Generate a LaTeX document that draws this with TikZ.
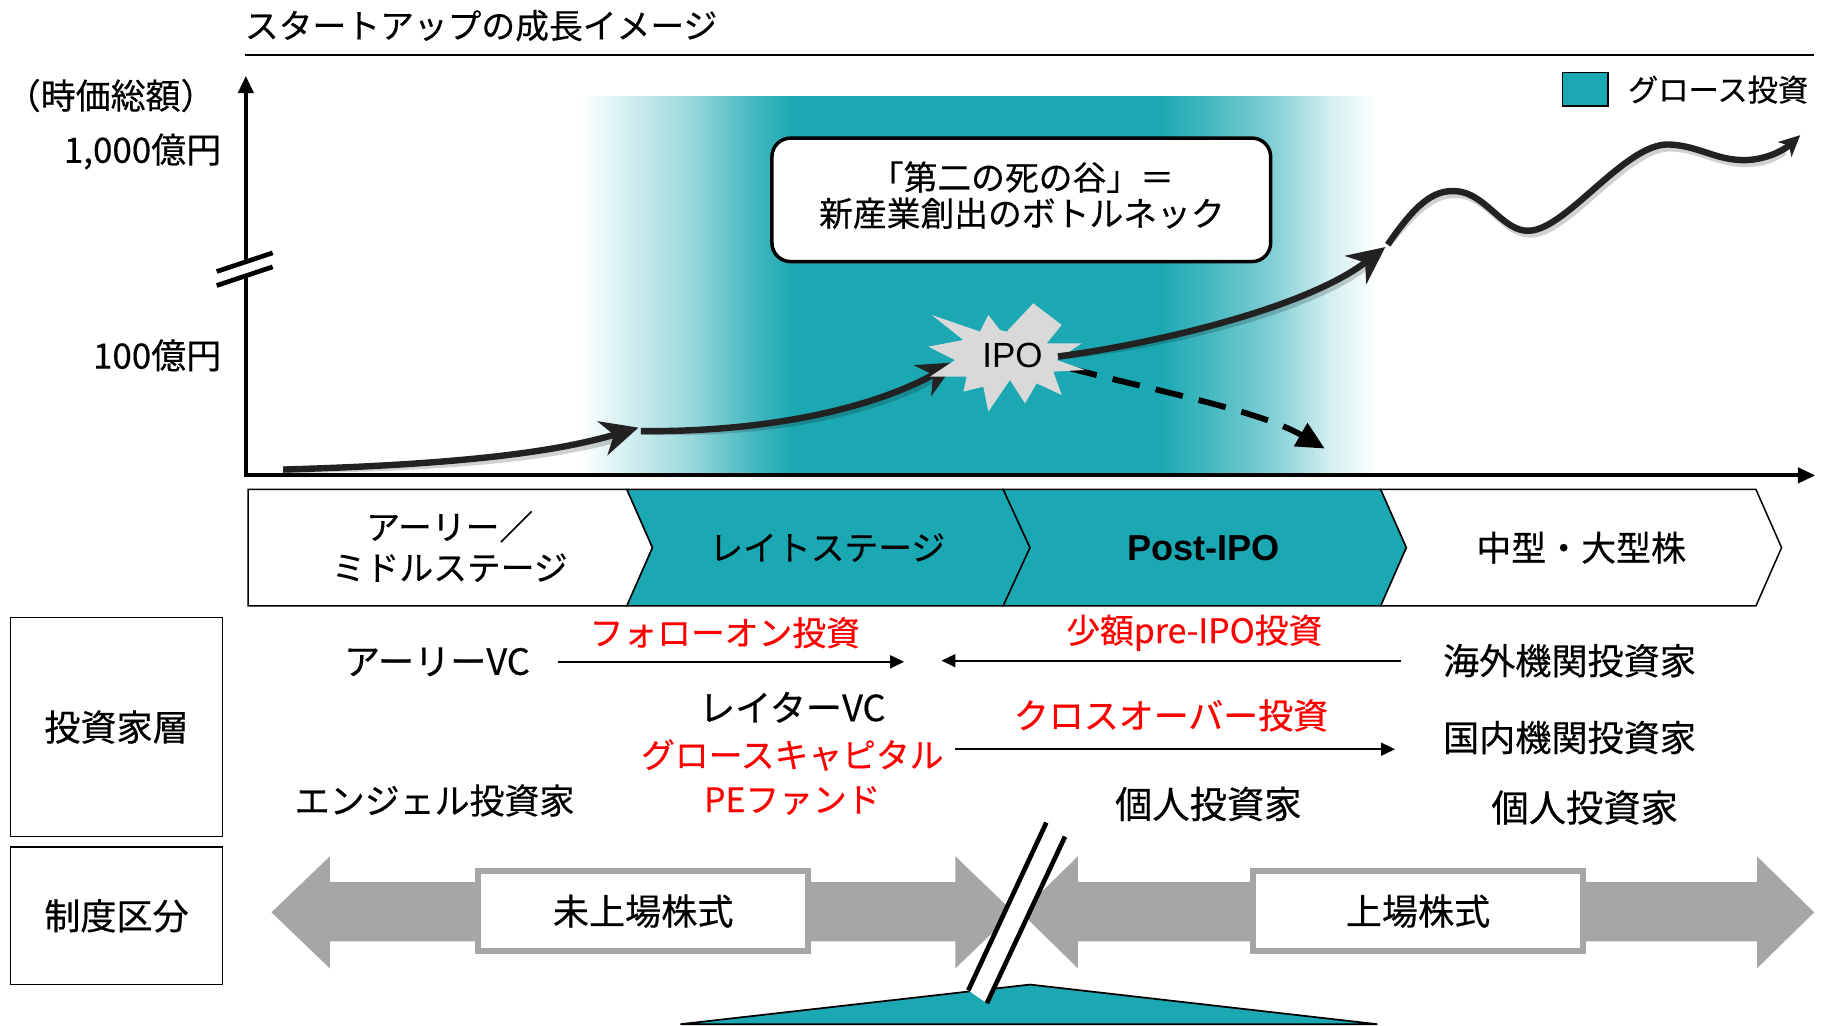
\documentclass[tikz,border=0pt]{standalone}
\usepackage{fontspec}
\setmainfont{Noto Sans CJK JP}[FakeBold=0.4]
\newfontfamily\arialfont{Liberation Sans}
\usetikzlibrary{arrows.meta}
\definecolor{tealA}{RGB}{27,168,178}
\definecolor{redtxt}{RGB}{255,0,0}
\definecolor{arrowgray}{RGB}{166,166,166}
\definecolor{stargray}{RGB}{217,217,217}
\definecolor{curvecol}{RGB}{34,34,34}
\pgfdeclarehorizontalshading{bandshade}{100bp}{color(0bp)=(white); color(25.2bp)=(white); color(32.1bp)=(tealA!45); color(36bp)=(tealA!82); color(38.5bp)=(tealA); color(61.2bp)=(tealA); color(63.3bp)=(tealA!88); color(68.3bp)=(tealA!55); color(71.7bp)=(tealA!20); color(74.8bp)=(white); color(100bp)=(white)}
\tikzset{
  txt/.style={font=\fontsize{#1}{#1}\selectfont, inner sep=0pt},
  txt/.default=31,
  redt/.style={txt=#1, text=redtxt},
  redt/.default=29,
  chevron/.style={draw=black, line width=1.3pt},
  growarrow/.style={draw=curvecol, line width=5.5pt, -{Stealth[length=32pt,width=30pt,inset=10pt]}},
  shadowline/.style={draw=black, opacity=0.18, line width=6pt, xshift=2pt, yshift=-3pt},
  thinarrow/.style={draw=black, line width=1.8pt, -{Triangle[length=12pt,width=11pt]}},
  labelbox/.style={draw=black, line width=1.3pt, minimum width=182pt, inner sep=0pt},
  stockbox/.style={draw=arrowgray, line width=5pt, fill=white, minimum width=283pt, minimum height=69pt, inner sep=0pt, font=\fontsize{31}{31}\selectfont},
  grayarrow/.style={fill=arrowgray},
}
\begin{document}
\begin{tikzpicture}[x=1pt,y=-1pt]
\useasboundingbox (0,0) rectangle (1568,880);
\fill[white] (0,0) rectangle (1568,880);

% growth investment band
\shade[shading=bandshade] (495,83) rectangle (1185,408);

% title
\node[txt=29, anchor=west] (title) at (210,22) {スタートアップの成長イメージ};
\draw[line width=1.5pt] (210,47) -- (1557,47);

% legend
\draw[fill=tealA, line width=1.2pt] (1341,62) rectangle (1380,91);
\node[txt=26, anchor=west] (legend) at (1397,77) {グロース投資};

% axis labels
\node[txt=30] (ylab) at (95,82) {（時価総額）};
\node[txt=30, anchor=east] (y1000) at (190,130) {1,000億円};
\node[txt=30, anchor=east] (y100) at (190,305) {100億円};

% callout box
\node[draw=black, line width=3pt, fill=white, rounded corners=16pt, minimum width=428pt, minimum height=106pt] (valley) at (876.5,171.5) {};
\node[align=center, font=\fontsize{29}{31}\selectfont, inner sep=0pt] (valleytxt) at (877,167.5) {「第二の死の谷」＝\\新産業創出のボトルネック};

% growth curves
\coordinate (g0) at (243,403);
\coordinate (g1) at (548,367);
\coordinate (g1b) at (550,370);
\coordinate (g2) at (820,311);
\coordinate (g3s) at (908,306);
\coordinate (g3) at (1189,212);
\coordinate (w0) at (1191,210);
\coordinate (w5) at (1545,116);
\coordinate (d0) at (918,316);
\coordinate (d1) at (1137,385);

\draw[shadowline] (g0) .. controls (380,399) and (470,390) .. (530,373);
\draw[shadowline] (g1b) .. controls (660,371) and (750,350) .. (800,322);
\draw[growarrow] (g0) .. controls (380,399) and (470,390) .. (g1);
\draw[growarrow] (g1b) .. controls (660,371) and (750,350) .. (g2);
\draw[draw=black, line width=5pt, dash pattern=on 24pt off 14pt, -{Triangle[length=24pt,width=22pt]}] (d0) .. controls (990,335) and (1080,352) .. (d1);

% IPO starburst
\fill[stargray] (886.8,260.3) -- (864.0,284.6) -- (858.2,283.2) -- (848.2,270.3) -- (841.1,284.6) -- (799.6,270.3) -- (826.8,291.8) -- (796.7,297.5) -- (819.6,309.0) -- (798.1,323.3) -- (829.6,323.3) -- (826.8,336.1) -- (843.9,331.9) -- (848.2,353.3) -- (866.8,326.1) -- (879.7,346.2) -- (889.7,329.0) -- (911.2,339.0) -- (904.0,319.0) -- (931.2,317.5) -- (906.9,309.0) -- (928.3,294.7) -- (898.3,294.7) -- (911.2,278.9) -- cycle;
\node[font=\arialfont\fontsize{30}{30}\selectfont, inner sep=0pt] (ipo) at (869,305) {IPO};

\draw[shadowline] (g3s) .. controls (990,295) and (1120,265) .. (1170,226);
\draw[shadowline] (w0) .. controls (1215,175) and (1230,163) .. (1249,164) .. controls (1275,165) and (1290,200) .. (1313,198) .. controls (1345,196) and (1395,123) .. (1432,124) .. controls (1460,125) and (1475,140) .. (1504,137) .. controls (1515,136) and (1522,132) .. (1530,127);
\draw[growarrow] (g3s) .. controls (990,295) and (1120,265) .. (g3);
\draw[draw=curvecol, line width=5.5pt, -{Stealth[length=18pt,width=17pt,inset=5pt]}] (w0) .. controls (1215,175) and (1230,163) .. (1249,164) .. controls (1275,165) and (1290,200) .. (1313,198) .. controls (1345,196) and (1395,123) .. (1432,124) .. controls (1460,125) and (1475,140) .. (1504,137) .. controls (1520,135) and (1532,128) .. (w5);

% axes
\coordinate (origin) at (211,408);
\coordinate (ytop) at (211,65);
\coordinate (xend) at (1558,408);
\draw[line width=3.5pt, -{Triangle[length=15pt,width=13pt]}] (origin) -- (ytop);
\draw[line width=3.5pt, -{Triangle[length=15pt,width=13pt]}] ([xshift=-1.75pt]origin) -- (xend);
% axis break
\fill[white] (186,233) -- (234,217) -- (234,229) -- (186,245) -- cycle;
\draw[line width=4pt] (186,233) -- (234,217);
\draw[line width=4pt] (186,245) -- (234,229);

% stage chevrons
\draw[chevron, fill=white] (213,420) -- (538,420) -- (560,470) -- (538,520) -- (213,520) -- cycle;
\draw[chevron, fill=tealA] (538,420) -- (861,420) -- (884,470) -- (861,520) -- (538,520) -- (560,470) -- cycle;
\draw[chevron, fill=tealA] (861,420) -- (1185,420) -- (1207,470) -- (1185,520) -- (861,520) -- (884,470) -- cycle;
\draw[chevron, fill=white] (1185,420) -- (1507,420) -- (1529,470) -- (1507,520) -- (1185,520) -- (1207,470) -- cycle;
\node[align=center, inner sep=0pt, font=\fontsize{29}{35}\selectfont] (st1) at (386,469) {アーリー／\\ミドルステージ};
\node[txt=29] (st2) at (710,470) {レイトステージ};
\node[font=\arialfont\bfseries\fontsize{31}{31}\selectfont, inner sep=0pt] (st3) at (1033,470) {Post-IPO};
\node[txt=30] (st4) at (1357,470) {中型・大型株};

% row label boxes
\node[labelbox, minimum height=188pt, font=\fontsize{31}{31}\selectfont] (inv) at (100,624) {投資家層};
\node[labelbox, minimum height=118pt, font=\fontsize{31}{31}\selectfont] (sys) at (100,786) {制度区分};

% investors
\node[txt] (earlyvc) at (375,568) {アーリーVC};
\node[txt] (latervc) at (680,607) {レイターVC};
\node[redt] (growcap) at (680,648) {グロースキャピタル};
\node[redt] (pefund) at (680,687) {PEファンド};
\node[txt=30] (angel) at (373,687) {エンジェル投資家};
\node[txt] (abroad) at (1347,567) {海外機関投資家};
\node[txt] (domestic) at (1347,633) {国内機関投資家};
\node[txt=32] (indiv1) at (1037,690) {個人投資家};
\node[txt=32] (indiv2) at (1360,693) {個人投資家};

\coordinate (foend) at (776,568);
\coordinate (preend) at (808,567);
\draw[thinarrow, shorten <=24pt] (earlyvc.east) -- (foend);
\node[redt] (follow) at (622,543) {フォローオン投資};
\draw[thinarrow, shorten <=36pt] (abroad.west) -- (preend);
\node[redt] (preipo) at (1025,543) {少額pre-IPO投資};
\draw[thinarrow] ([xshift=10pt,yshift=5pt]growcap.east) -- ([xshift=-41pt,yshift=-10pt]domestic.west);
\node[redt=30] (cross) at (1005,614) {クロスオーバー投資};

% market segment arrows
\fill[grayarrow] (233,783) -- (283,735) -- (283,757) -- (820,757) -- (820,735) -- (870,783) -- (820,831) -- (820,808) -- (283,808) -- (283,831) -- cycle;
\fill[grayarrow] (876,783) -- (925,735) -- (925,757) -- (1508,757) -- (1508,735) -- (1557,783) -- (1508,831) -- (1508,808) -- (925,808) -- (925,831) -- cycle;
\node[stockbox] (unlisted) at (552,782) {未上場株式};
\node[stockbox] (listed) at (1217,782) {上場株式};

% mountain
\draw[fill=tealA, line width=1.5pt] (584,879) -- (831,851) -- (884,845) -- (1182,879) -- cycle;

% break slash
\fill[white] (898,706) -- (914,718) -- (847,861) -- (831,850) -- cycle;
\draw[line width=4pt] (898,706) -- (831,850);
\draw[line width=4pt] (914,718) -- (847,861);
\end{tikzpicture}
\end{document}
